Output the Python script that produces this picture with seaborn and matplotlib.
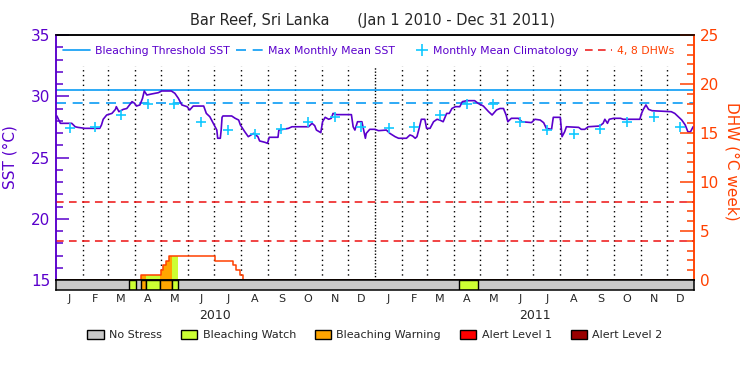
import numpy as np
import pandas as pd
import matplotlib
matplotlib.use("Agg")
import matplotlib.pyplot as plt
import seaborn as sns
from matplotlib.lines import Line2D
from matplotlib.patches import Patch
from matplotlib.legend_handler import HandlerBase
from matplotlib.ticker import MultipleLocator

# ===============================
# Data (days counted from Jan 1 2010)
# ===============================

sst_days = [1, 5, 18, 22, 25, 33, 50, 52, 54, 58, 64, 68, 69, 72, 77, 81, 87, 90, 92, 96,
            99, 101, 104, 109, 117, 121, 132, 136, 140, 144, 150, 153, 157, 169, 172, 176,
            180, 184, 185, 188, 189, 190, 191, 201, 205, 209, 211, 216, 220, 226, 231, 233,
            239, 242, 244, 254, 255, 266, 270, 289, 293, 296, 298, 303, 305, 308, 312, 315,
            317, 321, 338, 340, 342, 345, 350, 352, 354, 355, 359, 365, 369, 378, 382, 388,
            392, 401, 405, 408, 411, 413, 415, 418, 422, 424, 428, 432, 436, 439, 443, 447,
            450, 453, 457, 462, 465, 470, 479, 483, 489, 495, 499, 504, 508, 512, 515, 517,
            521, 529, 533, 544, 548, 554, 558, 561, 567, 569, 577, 578, 579, 582, 584, 598,
            601, 605, 609, 622, 626, 628, 631, 633, 638, 646, 649, 668, 670, 672, 675, 678,
            682, 704, 708, 712, 716, 720, 723, 726, 729]
sst_vals = [28.39, 27.79, 27.79, 27.51, 27.46, 27.38, 27.38, 27.65, 28.12, 28.47, 28.6, 28.93,
            29.15, 28.74, 28.93, 29.0, 29.56, 29.42, 29.2, 29.29, 29.83, 30.43, 30.1, 30.18,
            30.29, 30.43, 30.43, 30.24, 29.83, 29.29, 29.15, 28.88, 29.2, 29.2, 28.6, 28.33,
            27.79, 27.24, 26.57, 26.57, 27.24, 28.28, 28.39, 28.39, 28.2, 28.06, 27.65, 27.1,
            26.7, 26.97, 26.7, 26.35, 26.24, 26.16, 26.65, 26.65, 27.24, 27.38, 27.51, 27.51,
            27.79, 27.6, 27.24, 27.03, 27.92, 28.28, 28.12, 28.2, 28.6, 28.5, 28.5, 27.51,
            27.24, 27.92, 27.92, 27.24, 26.57, 26.97, 27.3, 27.3, 27.19, 27.24, 26.97, 26.7,
            26.57, 26.57, 26.84, 26.76, 26.57, 26.7, 27.24, 28.12, 28.12, 27.38, 27.38, 27.92,
            28.12, 28.06, 27.92, 28.6, 28.6, 29.0, 29.15, 29.15, 29.56, 29.64, 29.64, 29.42,
            29.2, 28.74, 28.47, 28.88, 29.0, 29.0, 28.47, 27.92, 28.2, 28.2, 27.92, 27.85,
            28.12, 28.06, 27.84, 27.38, 27.3, 28.28, 28.28, 27.51, 26.7, 27.1, 27.51, 27.46,
            27.3, 27.3, 27.51, 27.57, 27.79, 28.12, 27.79, 28.12, 28.2, 28.2, 28.12, 28.12,
            28.6, 28.93, 29.29, 28.93, 28.82, 28.74, 28.6, 28.33, 28.06, 27.65, 27.1, 27.1,
            27.51]

climatology = [27.4, 27.45, 28.45, 29.4, 29.4, 27.9, 27.25, 26.9, 27.3, 27.9, 28.3, 27.5]
mmm = 29.45
threshold = 30.47

dhw_days = [0, 97, 120, 123, 126, 129, 182, 203, 206, 210, 214, 730]
dhw_vals = [0, 0.48, 1.02, 1.5, 1.94, 2.42, 1.94, 1.5, 1.02, 0.48, 0, 0]
dhw_levels = [4, 8]

stress_start = [84, 97, 103, 119, 133, 461]
stress_end = [91, 103, 119, 133, 140, 483]
stress_level = ["Bleaching Watch", "Bleaching Warning", "Bleaching Watch",
                "Bleaching Warning", "Bleaching Watch", "Bleaching Watch"]

stress_names = ["No Stress", "Bleaching Watch", "Bleaching Warning", "Alert Level 1", "Alert Level 2"]
stress_colors = ["#c8c8c8", "#ccff33", "#ffa500", "#ff0000", "#990000"]
month_letters = ["J", "F", "M", "A", "M", "J", "J", "A", "S", "O", "N", "D"] * 2
years = ["2010", "2011"]

purple = "#5a00cc"
orange = "#ff4000"
blue = "#0a9cf5"
cyan = "#10c8ff"
red = "#ee1111"


class PlusHandler(HandlerBase):
    # plus sign sits near the text instead of in the middle of the handle
    def create_artists(self, legend, orig_handle, xdescent, ydescent, width, height, fontsize, trans):
        m = Line2D([-xdescent + width - 0.55 * fontsize], [height / 2 - ydescent],
                   color=orig_handle.get_color(), lw=0, marker="+",
                   ms=orig_handle.get_markersize(), mew=orig_handle.get_markeredgewidth())
        m.set_transform(trans)
        return [m]


# ===============================
# Figure
# ===============================

sns.set_style("white")
plt.rcParams["font.family"] = ["DejaVu Sans"]

fig = plt.figure(figsize=(7.5, 3.75), dpi=100)
ax = fig.add_axes([56 / 750, 95 / 375, 638 / 750, 245 / 375])
ax2 = ax.twinx()
axb = fig.add_axes([56 / 750, 85 / 375, 638 / 750, 10 / 375])

start = pd.Timestamp("2010-01-01")
month_starts = pd.date_range("2010-01-01", "2012-01-01", freq="MS")
bounds = np.array((month_starts - start).days, dtype=float)
mids = (bounds[:-1] + bounds[1:]) / 2

# month grid (year boundary drawn denser)
inner = np.delete(bounds[1:-1], 11)
ax.vlines(inner, 15, 32.5, colors="black", linestyles=(0, (1, 2.5)), lw=1, zorder=1)
ax.vlines([bounds[12]], 15, 32.5, colors="black", linestyles=(0, (1, 1.3)), lw=1, zorder=1)

# SST side
ax.axhline(threshold, color=blue, lw=1.2)
ax.axhline(mmm, color=blue, lw=1.2, ls=(0, (6, 4)))
sns.lineplot(x=sst_days, y=sst_vals, ax=ax, color=purple, lw=1.2, legend=False, zorder=3)
sns.scatterplot(x=mids, y=np.tile(climatology, 2), ax=ax, marker="+", s=55,
                color=cyan, linewidth=1.2, legend=False, zorder=4)

ax.set_xlim(0, 730)
ax.set_ylim(15, 35)
ax.set_xticks([])
ax.set_yticks([15, 20, 25, 30, 35])
ax.yaxis.set_minor_locator(MultipleLocator(1))
ax.tick_params(axis="y", which="major", direction="in", length=9.5, width=1.1,
               color=purple, labelcolor=purple, labelsize=11, pad=4, left=True)
ax.tick_params(axis="y", which="minor", direction="in", length=5, width=1.1,
               color=purple, left=True)
ax.set_ylabel("SST (°C)", color=purple, fontsize=11)
ax.yaxis.set_label_coords(-0.061, 0.5)

# DHW side
for lev in dhw_levels:
    ax2.axhline(lev, color=red, lw=1.1, ls=(0, (5, 3.5)))

dd = np.array(dhw_days)
dv = np.array(dhw_vals)
for s, e, lev in zip(stress_start, stress_end, stress_level):
    xs = [s] + [d for d in dhw_days if s < d < e] + [e]
    ys = dv[np.searchsorted(dd, xs, side="right") - 1]
    ax2.fill_between(xs, ys, step="post", color=stress_colors[stress_names.index(lev)], lw=0)
ax2.plot(dhw_days, dhw_vals, drawstyle="steps-post", color=orange, lw=1.1)

ax2.set_ylim(0, 25)
ax2.set_yticks([0, 5, 10, 15, 20, 25])
ax2.yaxis.set_minor_locator(MultipleLocator(1))
ax2.tick_params(axis="y", which="major", direction="in", length=10, width=1.1,
                color=orange, labelcolor=orange, labelsize=11, pad=4)
ax2.tick_params(axis="y", which="minor", direction="in", length=5, width=1.1, color=orange)
ax2.set_ylabel("DHW (°C week)", color=orange, fontsize=11, rotation=270, va="center")
ax2.yaxis.set_label_coords(1.06, 0.484)

for a in (ax, ax2):
    a.spines["left"].set_color(purple)
    a.spines["right"].set_color(orange)
    a.spines["top"].set_color("black")
    a.spines["bottom"].set_color("black")
    for sp in a.spines.values():
        sp.set_linewidth(1.1)

# top legend
plus = Line2D([], [], color=cyan, lw=0, marker="+", ms=8, mew=1.2)
handles = [
    Line2D([], [], color=blue, lw=1.2),
    Line2D([], [], color=blue, lw=1.2, ls=(0, (6, 4))),
    plus,
    Line2D([], [], color=red, lw=1.1, ls=(0, (5, 3.5))),
]
labels = ["Bleaching Threshold SST", "Max Monthly Mean SST", "Monthly Mean Climatology", "4, 8 DHWs"]
leg = ax2.legend(handles, labels, ncol=4, loc="center", bbox_to_anchor=(0.49, 0.935),
                 frameon=False, fontsize=7.8, handlelength=2.5, handletextpad=0.45,
                 columnspacing=0.6, borderpad=0, handler_map={plus: PlusHandler()})
for t, c in zip(leg.get_texts(), [purple, purple, purple, orange]):
    t.set_color(c)

# stress bar
axb.set_xlim(0, 730)
axb.set_ylim(0, 1)
axb.set_facecolor(stress_colors[0])
for s, e, lev in zip(stress_start, stress_end, stress_level):
    axb.axvspan(s, e, facecolor=stress_colors[stress_names.index(lev)], edgecolor="black", lw=1)
for sp in axb.spines.values():
    sp.set_color("black")
    sp.set_linewidth(1.1)
axb.set_yticks([])
axb.set_xticks(mids)
axb.set_xticklabels(month_letters)
axb.tick_params(axis="x", length=0, pad=3, labelsize=8)
for i, yr in enumerate(years):
    axb.text((bounds[12 * i] + bounds[12 * i + 12]) / 2, -2.57, yr,
             transform=axb.get_xaxis_transform(), ha="center", va="center", fontsize=9)

# bottom legend
patches = [Patch(facecolor=c, edgecolor="black", lw=1, label=n) for n, c in zip(stress_names, stress_colors)]
fig.legend(handles=patches, ncol=5, loc="center", bbox_to_anchor=(0.5, 0.107), frameon=False,
           fontsize=8, handlelength=1.45, handleheight=0.9, handletextpad=0.5, columnspacing=1.7)

fig.text(0.497, 0.944, "Bar Reef, Sri Lanka      (Jan 1 2010 - Dec 31 2011)",
         ha="center", va="center", fontsize=10.5)

fig.savefig("out.png", dpi=100)
